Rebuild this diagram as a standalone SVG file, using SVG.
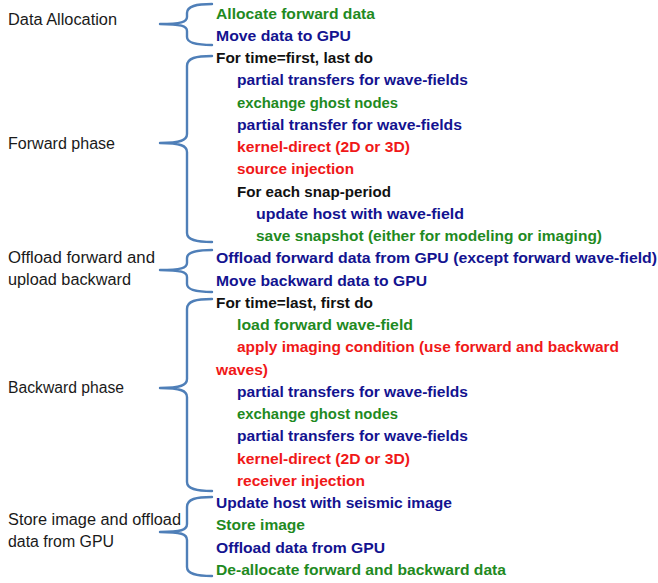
<svg xmlns="http://www.w3.org/2000/svg" width="658" height="583" viewBox="0 0 658 583">
  <style>
    .bg { fill: #ffffff; }
    .phase { font-family: "Liberation Sans", Arial, sans-serif; font-size: 16px; fill: #1a1a1a; }
    .step { font-family: "Liberation Sans", Arial, sans-serif; font-size: 15.5px; font-weight: bold; }
    .g { fill: #1f8a1f; }
    .b { fill: #131390; }
    .r { fill: #f01818; }
    .k { fill: #111111; }
    .brace { fill: none; stroke: #4f7fb8; stroke-width: 2.4; stroke-linecap: round; stroke-linejoin: round; }
  </style>
  <rect class="bg" x="0" y="0" width="658" height="583"/>

  <!-- curly braces joining each phase label to its steps -->
  <g id="connectors">
    <path class="brace" d="M212 4 C196 4 187 6 187 13 L187 17 C187 22 181 24 160 24 C181 24 187 26 187 31 L187 37 C187 43 196 45 212 45"/>
    <path class="brace" d="M212 56 C196 56 187 58 187 66 L187 134 C187 140 181 143 160 143 C181 143 187 146 187 152 L187 233 C187 240 196 242 212 242"/>
    <path class="brace" d="M212 250 C196 250 187 252 187 258 L187 263 C187 268 181 270 160 270 C181 270 187 272 187 277 L187 284 C187 290 196 292 212 292"/>
    <path class="brace" d="M212 299 C196 299 187 301 187 309 L187 379 C187 385 181 388 160 388 C181 388 187 391 187 397 L187 482 C187 489 196 491 212 491"/>
    <path class="brace" d="M212 497 C196 497 187 499 187 507 L187 524 C187 530 181 532 160 532 C181 532 187 534 187 540 L187 567 C187 574 196 576 212 576"/>
  </g>

  <g id="data-allocation">
    <text class="phase" x="8" y="25" textLength="109" lengthAdjust="spacingAndGlyphs">Data Allocation</text>
    <text class="step g" x="216" y="18.5" textLength="159" lengthAdjust="spacingAndGlyphs">Allocate forward data</text>
    <text class="step b" x="216" y="40.75" textLength="135" lengthAdjust="spacingAndGlyphs">Move data to GPU</text>
  </g>

  <g id="forward-phase">
    <text class="phase" x="8" y="149" textLength="107" lengthAdjust="spacingAndGlyphs">Forward phase</text>
    <text class="step k" x="216" y="63" textLength="157" lengthAdjust="spacingAndGlyphs">For time=first, last do</text>
    <text class="step b" x="237" y="85.25" textLength="231" lengthAdjust="spacingAndGlyphs">partial transfers for wave-fields</text>
    <text class="step g" x="237" y="107.5" textLength="161" lengthAdjust="spacingAndGlyphs">exchange ghost nodes</text>
    <text class="step b" x="237" y="129.75" textLength="225" lengthAdjust="spacingAndGlyphs">partial transfer for wave-fields</text>
    <text class="step r" x="237" y="152" textLength="173" lengthAdjust="spacingAndGlyphs">kernel-direct (2D or 3D)</text>
    <text class="step r" x="237" y="174.25" textLength="117" lengthAdjust="spacingAndGlyphs">source injection</text>
    <text class="step k" x="237" y="196.5" textLength="154" lengthAdjust="spacingAndGlyphs">For each snap-period</text>
    <text class="step b" x="256" y="218.75" textLength="208" lengthAdjust="spacingAndGlyphs">update host with wave-field</text>
    <text class="step g" x="256" y="241" textLength="346" lengthAdjust="spacingAndGlyphs">save snapshot (either for modeling or imaging)</text>
  </g>

  <g id="offload-upload">
    <text class="phase" x="8" y="263" textLength="147" lengthAdjust="spacingAndGlyphs">Offload forward and</text>
    <text class="phase" x="8" y="285" textLength="123" lengthAdjust="spacingAndGlyphs">upload backward</text>
    <text class="step b" x="216" y="263.25" textLength="441" lengthAdjust="spacingAndGlyphs">Offload forward data from GPU (except forward wave-field)</text>
    <text class="step b" x="216" y="285.5" textLength="211" lengthAdjust="spacingAndGlyphs">Move backward data to GPU</text>
  </g>

  <g id="backward-phase">
    <text class="phase" x="8" y="393" textLength="116" lengthAdjust="spacingAndGlyphs">Backward phase</text>
    <text class="step k" x="216" y="307.75" textLength="157" lengthAdjust="spacingAndGlyphs">For time=last, first do</text>
    <text class="step g" x="237" y="330" textLength="176" lengthAdjust="spacingAndGlyphs">load forward wave-field</text>
    <text class="step r" x="237" y="352.25" textLength="382" lengthAdjust="spacingAndGlyphs">apply imaging condition (use forward and backward</text>
    <text class="step r" x="216" y="374.5" textLength="52" lengthAdjust="spacingAndGlyphs">waves)</text>
    <text class="step b" x="237" y="396.75" textLength="231" lengthAdjust="spacingAndGlyphs">partial transfers for wave-fields</text>
    <text class="step g" x="237" y="419" textLength="161" lengthAdjust="spacingAndGlyphs">exchange ghost nodes</text>
    <text class="step b" x="237" y="441.25" textLength="231" lengthAdjust="spacingAndGlyphs">partial transfers for wave-fields</text>
    <text class="step r" x="237" y="463.5" textLength="173" lengthAdjust="spacingAndGlyphs">kernel-direct (2D or 3D)</text>
    <text class="step r" x="237" y="485.75" textLength="128" lengthAdjust="spacingAndGlyphs">receiver injection</text>
  </g>

  <g id="store-offload">
    <text class="phase" x="8" y="525" textLength="173" lengthAdjust="spacingAndGlyphs">Store image and offload</text>
    <text class="phase" x="8" y="547" textLength="106" lengthAdjust="spacingAndGlyphs">data from GPU</text>
    <text class="step b" x="216" y="508" textLength="236" lengthAdjust="spacingAndGlyphs">Update host with seismic image</text>
    <text class="step g" x="216" y="530.25" textLength="89" lengthAdjust="spacingAndGlyphs">Store image</text>
    <text class="step b" x="216" y="552.5" textLength="169" lengthAdjust="spacingAndGlyphs">Offload data from GPU</text>
    <text class="step g" x="216" y="574.75" textLength="290" lengthAdjust="spacingAndGlyphs">De-allocate forward and backward data</text>
  </g>
</svg>
